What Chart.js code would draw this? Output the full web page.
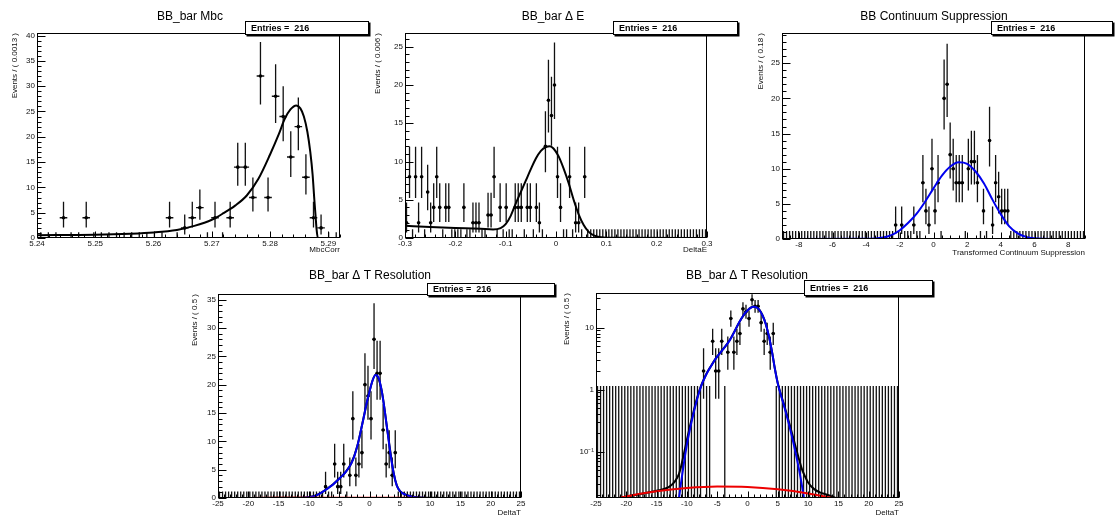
<!DOCTYPE html>
<html><head><meta charset="utf-8">
<script src="https://cdn.jsdelivr.net/npm/chart.js@4/dist/chart.umd.min.js"></script>
<style>
html,body{margin:0;padding:0;background:#fff;}
body{width:1115px;height:523px;position:relative;overflow:hidden;}
canvas{position:absolute;}
</style></head><body>
<canvas id="c1" width="372" height="260" style="left:0px;top:0px"></canvas>
<canvas id="c2" width="370" height="260" style="left:370px;top:0px"></canvas>
<canvas id="c3" width="375" height="260" style="left:740px;top:0px"></canvas>
<canvas id="c4" width="372" height="258" style="left:185px;top:265px"></canvas>
<canvas id="c5" width="380" height="258" style="left:555px;top:265px"></canvas>
<script>
// ---------------- DATA ----------------
// Mbc histogram: 40 bins, 5.24 - 5.292 (bin 0.0013)
const mbcRange = [5.24, 5.292];
const mbcCounts = [0,0,0,4,0,0,4,0,0,0, 0,0,0,0,0,0,0,4,0,2, 4,6,0,4,0,4,14,14,8,32, 8,28,24,16,22,12,4,2,0,0];
const mbcFitX = [5.2400,5.2500,5.2560,5.2600,5.2640,5.2670,5.2700,5.2720,5.2740,5.2760,5.2780,5.2800,5.2815,5.2825,5.2835,5.2845,5.2852,5.2858,5.2864,5.2869,5.2873,5.2876,5.2878,5.2880,5.2882,5.2920];
const mbcFitY = [0.55,0.65,0.85,1.1,1.6,2.4,3.6,4.9,6.4,8.4,11.7,16.5,20.5,23.5,25.4,26.2,25.6,24.0,21.0,17.0,12.5,7.5,4.5,1.5,0,0];
const mbcXTicks = [5.24,5.25,5.26,5.27,5.28,5.29];
const mbcXLabels = ['5.24','5.25','5.26','5.27','5.28','5.29'];
const mbcYTicks = [0,5,10,15,20,25,30,35,40];

// Delta E histogram: 100 bins, -0.3 - 0.3 (bin 0.006)
const deRange = [-0.3, 0.3];
const deCounts = [2,8,0,8,2,8,0,6,2,4, 8,4,0,4,4,0,0,0,0,4, 0,0,2,2,2,0,0,3,3,8, 0,4,0,4,0,0,4,4,4,0,
                  4,4,0,4,2,0,12,18,16,20, 8,4,0,0,8,0,2,2,0,8, 0,0,0,0,0,0,0,0,0,0, 0,0,0,0,0,0,0,0,0,0,
                  0,0,0,0,0,0,0,0,0,0, 0,0,0,0,0,0,0,0,0,0];
const deFitX = [-0.300,-0.250,-0.200,-0.150,-0.125,-0.110,-0.100,-0.090,-0.080,-0.070,-0.060,-0.050,-0.040,-0.030,-0.020,-0.012,-0.005,0.005,0.015,0.025,0.035,0.045,0.055,0.065,0.075,0.090,0.110,0.300];
const deFitY = [1.6,1.45,1.32,1.2,1.12,1.3,1.8,2.9,4.5,6.0,7.5,9.0,10.4,11.4,11.9,12.0,11.7,10.7,9.1,7.2,5.0,3.1,1.7,0.8,0.35,0.1,0.02,0];
const deXTicks = [-0.3,-0.2,-0.1,0,0.1,0.2,0.3];
const deXLabels = ['-0.3','-0.2','-0.1','0','0.1','0.2','0.3'];
const deYTicks = [0,5,10,15,20,25];

// Continuum suppression histogram: 100 bins, -9 - 9 (bin 0.18)
const csRange = [-9, 9];
const csCounts = [0,0,0,0,0,0,0,0,0,0, 0,0,0,0,0,0,0,0,0,0, 0,0,0,0,0,0,0,0,0,0, 0,0,0,0,0,0,0,2,0,2,
                  0,0,0,2,0,0,8,4,2,10, 4,8,0,20,22,12,10,8,8,8, 0,10,11,11,8,0,4,0,14,2, 8,6,4,4,4,0,0,0,0,0,
                  0,0,0,0,0,0,0,0,0,0, 0,0,0,0,0,0,0,0,0,0];
const csSigX = [-9,-4,-3,-2.5,-2,-1.5,-1,-0.5,0,0.5,1,1.5,2,2.5,3,3.5,4,4.5,5,5.5,6,6.5,7,9];
const csSigY = [0,0.02,0.2,0.55,1.25,2.3,3.6,5.3,7.2,9.0,10.3,10.9,10.7,9.6,7.9,5.6,3.5,1.8,0.8,0.3,0.1,0.03,0.01,0];
const csBkgX = [-9, 9];
const csBkgY = [0, 0];
const csXTicks = [-8,-6,-4,-2,0,2,4,6,8];
const csXLabels = ['-8','-6','-4','-2','0','2','4','6','8'];
const csYTicks = [0,5,10,15,20,25];

// Delta T histogram: 100 bins, -25 - 25 (bin 0.5)
const dtRange = [-25, 25];
const dtCounts = [0,0,0,0,0,0,0,0,0,0, 0,0,0,0,0,0,0,0,0,0, 0,0,0,0,0,0,0,0,0,0, 0,0,0,0,0,2,0,0,6,2,
                  2,6,0,4,14,4,6,8,20,18, 14,28,22,22,12,6,8,4,8,0, 0,0,0,0,0,0,0,0,0,0, 0,0,0,0,0,0,0,0,0,0,
                  0,0,0,0,0,0,0,0,0,0, 0,0,0,0,0,0,0,0,0,0];
const dtSigX = [-25,-11.3,-11,-10.5,-10,-9.5,-9,-8.5,-8,-7.5,-7,-6.5,-6,-5.5,-5,-4.5,-4,-3.5,-3,-2.5,-2,-1.5,-1,-0.5,0,0.5,1,1.5,2,2.5,3,3.5,4,4.5,5,5.5,6,6.5,7,7.5,8,8.5,9,9.3,25];
const dtSigY = [0,0.018,0.03,0.065,0.13,0.23,0.38,0.6,0.9,1.25,1.6,2.0,2.4,2.9,3.4,3.9,4.5,5.2,6.1,7.4,9.2,11.5,14.0,16.6,18.8,20.7,21.7,21.2,19.0,15.5,11.5,7.5,4.3,2.2,1.25,0.82,0.56,0.37,0.24,0.15,0.09,0.052,0.028,0.018,0];
const dtBkgX = [-25,-20,-15,-10,-5,0,5,10,15,20,25];
const dtBkgY = [0.0148,0.0191,0.0231,0.0260,0.0275,0.0270,0.0248,0.0213,0.0171,0.0127,0.0089];
const dtTotX = [-25,-20,-15,-13,-12,-11.3,-11,-10.5,-10,-9.5,-9,-8.5,-8,-7,-6,-5,-4,-3,-2,-1,0,1,2,3,4,4.5,5,5.5,6,6.5,7,7.5,8,8.5,9,9.5,10,11,12,13,15,20,25];
const dtTotY = [0.0148,0.0191,0.0235,0.027,0.033,0.044,0.056,0.092,0.156,0.256,0.405,0.63,0.93,1.63,2.43,3.43,4.53,6.13,9.23,14.03,18.83,21.73,19.03,11.53,4.33,2.23,1.27,0.845,0.585,0.395,0.265,0.175,0.114,0.076,0.052,0.04,0.032,0.025,0.022,0.0205,0.0175,0.0127,0.0089];
const dtXTicks = [-25,-20,-15,-10,-5,0,5,10,15,20,25];
const dtXLabels = ['-25','-20','-15','-10','-5','0','5','10','15','20','25'];
const dtYTicks = [0,5,10,15,20,25,30,35];
const dtLogYTicks = [0.1, 1, 10];
const dtLogYLabels = ['10\u207B\u00B9', '1', '10'];
const entries = 216;

// ---------------- HELPERS ----------------
const FONT = '"Liberation Sans", Arial, Helvetica, sans-serif';

function poissonInterval(n) {
  if (n <= 0) return [0, 1.147];
  const lo = n * Math.pow(1 - 1 / (9 * n) - 1 / (3 * Math.sqrt(n)), 3);
  const m = n + 1;
  const hi = m * Math.pow(1 - 1 / (9 * m) + 1 / (3 * Math.sqrt(m)), 3);
  return [lo, hi];
}

const rootPad = {
  id: 'rootPad',
  afterDatasetsDraw(chart, args, o) {
    const ctx = chart.ctx, a = chart.chartArea, xs = chart.scales.x, ys = chart.scales.y;
    const L = Math.round(a.left) + 0.5, R = Math.round(a.right) - 0.5;
    const T = Math.round(a.top) + 0.5, B = Math.round(a.bottom) - 0.5;
    ctx.save();
    ctx.strokeStyle = '#000';
    ctx.lineWidth = 1;
    ctx.beginPath();
    const xMaj = xs.ticks.map(t => t.value);
    const near = (v, arr, tol) => arr.some(m => Math.abs(m - v) < tol);
    const xStep = o.xMinor;
    for (let k = Math.ceil(xs.min / xStep - 1e-6); k * xStep <= xs.max + 1e-9; k++) {
      const v = k * xStep;
      const len = near(v, xMaj, xStep * 0.01) ? 6 : 3;
      const px = Math.round(xs.getPixelForValue(v)) + 0.5;
      ctx.moveTo(px, B); ctx.lineTo(px, B - len);
    }
    const yMaj = ys.ticks.map(t => t.value);
    if (o.yMinor === 'log') {
      for (let e = -3; e <= 3; e++) {
        for (let k = 1; k <= 9; k++) {
          const v = k * Math.pow(10, e);
          if (v < ys.min || v > ys.max) continue;
          const len = k === 1 ? 8 : 4;
          const py = Math.round(ys.getPixelForValue(v)) + 0.5;
          ctx.moveTo(L, py); ctx.lineTo(L + len, py);
        }
      }
    } else {
      const yStep = o.yMinor;
      for (let k = Math.ceil(ys.min / yStep - 1e-6); k * yStep <= ys.max + 1e-9; k++) {
        const v = k * yStep;
        const len = near(v, yMaj, yStep * 0.01) ? 8 : 4;
        const py = Math.round(ys.getPixelForValue(v)) + 0.5;
        ctx.moveTo(L, py); ctx.lineTo(L + len, py);
      }
    }
    ctx.stroke();
    ctx.strokeRect(L, T, R - L, B - T);
    ctx.restore();
  },
  afterDraw(chart, args, o) {
    const ctx = chart.ctx;
    ctx.save();
    ctx.fillStyle = '#000';
    ctx.font = '12px ' + FONT;
    ctx.textAlign = 'center';
    ctx.textBaseline = 'middle';
    ctx.fillText(o.title, o.titleX, o.titleY);
    const [x1, y1, x2, y2] = o.box;
    ctx.fillStyle = '#000';
    ctx.fillRect(x1 + 1.5, y1 + 1.5, x2 - x1, y2 - y1);
    ctx.fillStyle = '#fff';
    ctx.fillRect(x1, y1, x2 - x1, y2 - y1);
    ctx.strokeStyle = '#000';
    ctx.lineWidth = 1;
    ctx.strokeRect(x1 + 0.5, y1 + 0.5, x2 - x1 - 1, y2 - y1 - 1);
    ctx.fillStyle = '#000';
    ctx.font = 'bold 9px ' + FONT;
    ctx.textAlign = 'left';
    ctx.fillText('Entries =  ' + o.entries, x1 + 6, (y1 + y2) / 2 + 0.5);
    ctx.restore();
  }
};

function buildChart(id, p) {
  const isLog = p.yType === 'logarithmic';
  const n = p.counts.length;
  const bw = (p.range[1] - p.range[0]) / n;
  const centers = p.counts.map((_, i) => p.range[0] + bw * (i + 0.5));
  const datasets = [];
  p.curves.forEach(c => {
    let pts = c.x.map((xv, i) => ({x: xv, y: c.y[i]}));
    if (isLog) pts = pts.filter(q => q.y > 0);
    datasets.push({data: pts, showLine: true, borderColor: c.color, borderWidth: 2,
      pointRadius: 0, cubicInterpolationMode: 'monotone', fill: false});
  });
  const markers = [];
  const bars = [];
  p.counts.forEach((v, i) => {
    const x = centers[i];
    const [lo, hi] = poissonInterval(v);
    bars.push({x, y: (isLog && lo <= 0) ? p.yMin / 100 : lo}, {x, y: hi}, {x, y: null});
    if (!(isLog && v === 0)) bars.push({x: x - bw / 2, y: v}, {x: x + bw / 2, y: v}, {x, y: null});
    if (v > 0) markers.push({x, y: v});
  });
  datasets.push({data: markers, showLine: false, pointRadius: 1.8, pointBackgroundColor: '#000', pointBorderWidth: 0});
  datasets.push({data: bars, showLine: true, borderColor: '#111', borderWidth: 1.3, pointRadius: 0, spanGaps: false});

  const tickFont = {family: FONT, size: 8};
  new Chart(document.getElementById(id), {
    type: 'scatter',
    data: {datasets},
    options: {
      responsive: false, animation: false, devicePixelRatio: 1, events: [],
      layout: {padding: {left: 0, top: p.area.T, right: p.w - p.area.R, bottom: 0}},
      plugins: {
        legend: {display: false}, tooltip: {enabled: false}, title: {display: false},
        rootPad: {title: p.title, titleX: p.titleX, titleY: p.titleY, box: p.box, entries: entries,
                  xMinor: p.xMinor, yMinor: p.yMinor}
      },
      scales: {
        x: {
          type: 'linear', min: p.range[0], max: p.range[1],
          afterBuildTicks: s => { s.ticks = p.xTicks.map(v => ({value: v})); },
          afterFit: s => { s.height = p.h - p.area.B; },
          grid: {display: false, drawTicks: false}, border: {display: false},
          ticks: {autoSkip: false, maxRotation: 0, minRotation: 0, padding: 1, color: '#111', font: tickFont,
                  callback: (v, i) => p.xLabels[i]},
          title: {display: true, text: p.xTitle, align: 'end', color: '#111', font: tickFont,
                  padding: {top: 0, bottom: p.xTitlePad}}
        },
        y: {
          type: p.yType, min: p.yMin, max: p.yMax,
          afterBuildTicks: s => { s.ticks = p.yTicks.map(v => ({value: v})); },
          afterFit: s => { s.width = p.area.L; },
          grid: {display: false, drawTicks: false}, border: {display: false},
          ticks: {autoSkip: false, padding: 2, color: '#111', font: tickFont,
                  callback: (v, i) => p.yLabels ? p.yLabels[i] : String(v)},
          title: {display: true, text: p.yTitle, align: 'end', color: '#111', font: tickFont,
                  padding: {top: p.yTitlePad, bottom: 0}}
        }
      }
    },
    plugins: [rootPad]
  });
}

// ---------------- CHARTS ----------------
buildChart('c1', {
  w: 372, h: 260, area: {L: 37, T: 33, R: 340, B: 238},
  range: mbcRange, counts: mbcCounts,
  curves: [{x: mbcFitX, y: mbcFitY, color: '#000'}],
  yType: 'linear', yMin: 0, yMax: 40.5, yTicks: mbcYTicks,
  xTicks: mbcXTicks, xLabels: mbcXLabels, xMinor: 0.002, yMinor: 1,
  xTitle: 'MbcCorr', xTitlePad: 5, yTitle: 'Events / ( 0.0013 )', yTitlePad: 9.5,
  title: 'BB_bar Mbc', titleX: 190, titleY: 17, box: [245, 21, 369, 35]
});
buildChart('c2', {
  w: 370, h: 260, area: {L: 35, T: 33, R: 337, B: 238},
  range: deRange, counts: deCounts,
  curves: [{x: deFitX, y: deFitY, color: '#000'}],
  yType: 'linear', yMin: 0, yMax: 26.8, yTicks: deYTicks,
  xTicks: deXTicks, xLabels: deXLabels, xMinor: 0.02, yMinor: 1,
  xTitle: 'DeltaE', xTitlePad: 5, yTitle: 'Events / ( 0.006 )', yTitlePad: 2.7,
  title: 'BB_bar \u0394 E', titleX: 183, titleY: 17, box: [243, 21, 368, 35]
});
buildChart('c3', {
  w: 375, h: 260, area: {L: 42, T: 33, R: 345, B: 239},
  range: csRange, counts: csCounts,
  curves: [{x: csSigX, y: csSigY, color: '#0000ee'}, {x: csBkgX, y: csBkgY, color: '#0a7d0a'}],
  yType: 'linear', yMin: 0, yMax: 29.3, yTicks: csYTicks,
  xTicks: csXTicks, xLabels: csXLabels, xMinor: 0.5, yMinor: 1,
  xTitle: 'Transformed Continuum Suppression', xTitlePad: 2, yTitle: 'Events / ( 0.18 )', yTitlePad: 16,
  title: 'BB Continuum Suppression', titleX: 194, titleY: 17, box: [251, 21, 373, 35]
});
buildChart('c4', {
  w: 372, h: 258, area: {L: 33, T: 29, R: 336, B: 233},
  range: dtRange, counts: dtCounts,
  curves: [{x: dtBkgX, y: dtBkgY, color: '#ee0000'}, {x: dtSigX, y: dtSigY, color: '#0000ee'}, {x: dtTotX, y: dtTotY, color: '#000'}],
  yType: 'linear', yMin: 0, yMax: 36, yTicks: dtYTicks,
  xTicks: dtXTicks, xLabels: dtXLabels, xMinor: 1, yMinor: 1,
  xTitle: 'DeltaT', xTitlePad: 5, yTitle: 'Events / ( 0.5 )', yTitlePad: 5.2,
  title: 'BB_bar \u0394 T Resolution', titleX: 185, titleY: 11, box: [242, 18, 370, 31]
});
buildChart('c5', {
  w: 380, h: 258, area: {L: 41, T: 28, R: 344, B: 233},
  range: dtRange, counts: dtCounts,
  curves: [{x: dtBkgX, y: dtBkgY, color: '#ee0000'}, {x: dtSigX, y: dtSigY, color: '#0000ee'}, {x: dtTotX, y: dtTotY, color: '#000'}],
  yType: 'logarithmic', yMin: 0.018, yMax: 36, yTicks: dtLogYTicks, yLabels: dtLogYLabels,
  xTicks: dtXTicks, xLabels: dtXLabels, xMinor: 1, yMinor: 'log',
  xTitle: 'DeltaT', xTitlePad: 5, yTitle: 'Events / ( 0.5 )', yTitlePad: 6.9,
  title: 'BB_bar \u0394 T Resolution', titleX: 192, titleY: 11, box: [249, 15, 378, 31]
});
</script>
</body></html>
